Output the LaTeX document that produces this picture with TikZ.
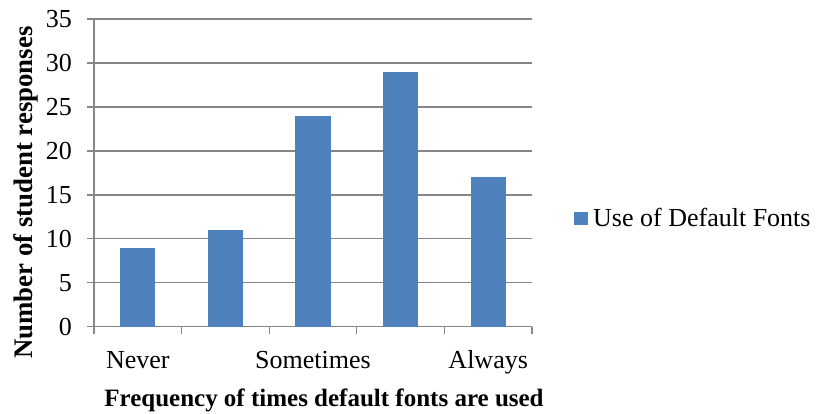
\documentclass[tikz,border=0pt]{standalone}
\usepackage{fontspec}
\setmainfont{Liberation Serif}
\definecolor{barblue}{HTML}{4F81BD}
\definecolor{gridgrey}{HTML}{878787}
\tikzset{
  gridline/.style={draw=gridgrey, line width=1.3pt},
  barfill/.style={fill=barblue, draw=none},
  ticklabel/.style={anchor=base east, inner sep=0pt, font=\fontsize{26}{30}\selectfont},
  catlabel/.style={anchor=base, inner sep=0pt, font=\fontsize{26}{30}\selectfont},
  axistitle/.style={anchor=base, inner sep=0pt, font=\fontsize{25}{29}\selectfont\bfseries},
}
\begin{document}
\begin{tikzpicture}[x=1pt,y=1pt]
\useasboundingbox (0,0) rectangle (818,413);
% plot geometry: x from 94 to 532, y0 = 86.3, 8.79 per unit
\def\yz{86.3}
\def\yu{8.79}
\def\cw{87.6}
% gridlines and y tick labels
\foreach \v in {0,5,...,35} {
  \draw[gridline] (87,{\yz+\v*\yu}) -- (532,{\yz+\v*\yu});
  \node[ticklabel] (t\v) at (72,{\yz+\v*\yu-8.8}) {\v};
}
% y axis
\draw[gridline] (94,{\yz+35*\yu}) -- (94,\yz-7);
% x ticks
\foreach \i in {1,...,5} {
  \draw[gridline] ({94+\i*\cw},\yz) -- ({94+\i*\cw},\yz-7);
}
% bars
\foreach \i/\val in {0/9,1/11,2/24,3/29,4/17} {
  \fill[barfill] ({94+\i*\cw+0.3*\cw},\yz) rectangle ({94+\i*\cw+0.7*\cw},{\yz+\val*\yu});
}
% category labels
\node[catlabel] (never) at ({94+0.5*\cw},45) {Never};
\node[catlabel] (sometimes) at ({94+2.5*\cw},45) {Sometimes};
\node[catlabel] (always) at ({94+4.5*\cw},45) {Always};
% axis titles
\node[axistitle] (xtitle) at (324,6.5) {Frequency of times default fonts are used};
\node[axistitle, rotate=90, font=\fontsize{26.8}{30}\selectfont\bfseries] (ytitle) at (32,220.5) {Number of student responses};
% legend
\fill[barfill] (574,188) rectangle (588,201.5);
\node[anchor=base west, inner sep=0pt, font=\fontsize{26}{30}\selectfont] (legend) at (593,186.3) {Use of Default Fonts};
\end{tikzpicture}
\end{document}
